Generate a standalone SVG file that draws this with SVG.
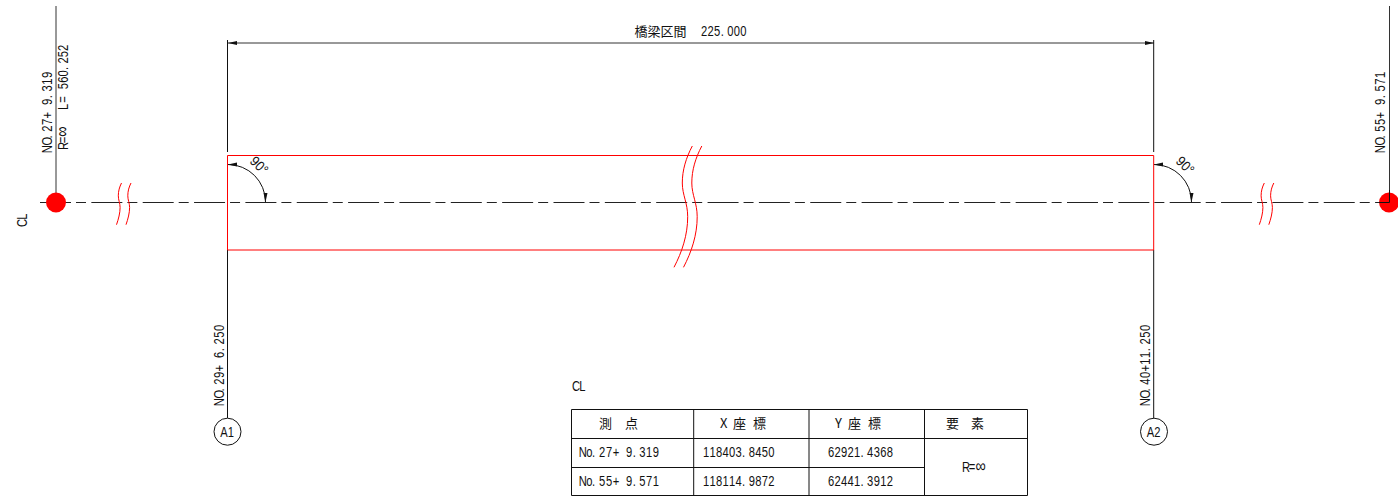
<svg xmlns="http://www.w3.org/2000/svg" width="1398" height="497" viewBox="0 0 1398 497">
<style>
.l{stroke:#111;stroke-width:1;fill:none}
.g{stroke:#333;stroke-width:1;fill:none}
.r{stroke:#f00;stroke-width:1;fill:none}
.c{stroke:#222;stroke-width:1;fill:none;stroke-dasharray:31 5 10 5.35}
.t{font-family:"Liberation Sans",sans-serif;font-size:14px;fill:#111}
.j{font-family:"Noto Sans CJK JP",sans-serif;font-size:13px;fill:#111}
.i{font-size:18px}
</style>
<defs>
<marker id="b" markerWidth="10" markerHeight="6" refX="9" refY="3" orient="auto-start-reverse" markerUnits="userSpaceOnUse"><path d="M0 1L9 3L0 5Z" fill="#111"/></marker>
</defs>
<g id="connectors">
<path class="g" d="M56 6V202"/>
<path class="g" d="M1389.500 6V202"/>
<path class="g" d="M228 43H1154" marker-start="url(#b)" marker-end="url(#b)"/>
<path class="l" d="M227.500 40V152M227.500 250V418"/>
<path class="l" d="M1153.700 40V152M1153.700 250V418"/>
<path class="c" d="M40 202.500H1389.500"/>
<path class="l" d="M228 164.500A37.500 37.500 0 0 1 265.500 202" marker-start="url(#b)" marker-end="url(#b)"/>
<path class="l" d="M1154 164.500A37.500 37.500 0 0 1 1191.500 202" marker-start="url(#b)" marker-end="url(#b)"/>
</g>
<g id="deck">
<path class="r" d="M227.500 250V155.500H1153.700V250"/>
<path class="r" d="M227.500 250H1153.700"/>
</g>
<g id="breaks">
<path class="r" d="M692.300 146C686 158 682.300 170 682.300 183C682.300 195 687.700 203 687.700 216.700C687.700 235 682 252 674 267.300"/>
<path class="r" d="M701.800 146C695.500 158 691.800 170 691.800 183C691.800 195 697.200 203 697.200 216.700C697.200 235 691.500 252 683.500 267.300"/>
<path class="r" d="M121.500 183C119.500 187 118.300 191 118.300 195.800C118.300 200 120.100 203 120.100 207.500C120.100 213 118.500 219 116.500 224.700"/>
<path class="r" d="M131 183C129 187 127.800 191 127.800 195.800C127.800 200 129.600 203 129.600 207.500C129.600 213 128 219 126 224.700"/>
<path class="r" d="M1264.300 183C1262.300 187 1261.100 191 1261.100 195.800C1261.100 200 1262.900 203 1262.900 207.500C1262.900 213 1261.300 219 1259.300 224.700"/>
<path class="r" d="M1273.800 183C1271.800 187 1270.600 191 1270.600 195.800C1270.600 200 1272.400 203 1272.400 207.500C1272.400 213 1270.800 219 1268.800 224.700"/>
</g>
<g id="point-start">
<circle cx="56" cy="202.500" r="10" fill="#f00"/>
<text class="t" transform="translate(51.500,152) rotate(-90) scale(.8,1)" x="-1.500 8 16.800 25.200 33.600 42 50.400 58.800 67.200 75.600 84 92.400">NO.27+ 9.319</text>
<text class="t" transform="translate(68,150) rotate(-90) scale(.8,1)"><tspan x="0 8.500">R=</tspan><tspan class="i" x="16.500">∞</tspan><tspan x="36 50 59 69 76 84 92 100 108 116"> L= 560.252</tspan></text>
<text class="t" transform="translate(27,227) rotate(-90) scale(.8,1)" x="0 9">CL</text>
</g>
<g id="point-end">
<circle cx="1389" cy="202.500" r="10" fill="#f00"/>
<path class="l" d="M1389.500 190V202.500H1379"/>
<text class="t" transform="translate(1385,152) rotate(-90) scale(.8,1)" x="-1.500 8 16.800 25.200 33.600 42 50.400 58.800 67.200 75.600 84 92.400">NO.55+ 9.571</text>
</g>
<g id="span-label">
<text class="j" x="634.500" y="36" textLength="52">橋梁区間</text>
<text class="t" transform="translate(701,36) scale(.8,1)" x="0 8.200 16.400 24.600 32.800 41 49.200">225.000</text>
</g>
<text class="t" transform="translate(249,162) rotate(45) scale(.9,1)" style="font-size:14px">90°</text>
<text class="t" transform="translate(1175,162) rotate(45) scale(.9,1)" style="font-size:14px">90°</text>
<g id="A1">
<circle cx="227.500" cy="431.700" r="13.500" fill="#fff" stroke="#111"/>
<text class="t" transform="translate(221,436.500) scale(.8,1)" x="-1 8.300">A1</text>
<text class="t" transform="translate(224,405) rotate(-90) scale(.8,1)" x="-1.500 8 16.800 25.200 33.600 42 50.400 58.800 67.200 75.600 84 92.400">NO.29+ 6.250</text>
</g>
<g id="A2">
<circle cx="1154" cy="431.700" r="13.500" fill="#fff" stroke="#111"/>
<text class="t" transform="translate(1147.500,436.500) scale(.8,1)" x="-1 8.300">A2</text>
<text class="t" transform="translate(1150,405) rotate(-90) scale(.8,1)" x="-1.500 8 16.800 25.200 33.600 42 50.400 58.800 67.200 75.600 84 92.400">NO.40+11.250</text>
</g>
<g id="table">
<text class="t" transform="translate(572,391) scale(.8,1)" x="0 9">CL</text>
<path class="l" d="M571.500 409.500H1027.500V495.500H571.500ZM693.700 409.500V495.500M809 409.500V495.500M924.500 409.500V495.500M571.500 438.500H1027.500M571.500 467.500H924.500"/>
<text class="j" y="428" x="599 612 625">測 点</text>
<text class="j" y="428" x="720 727 733 746 753">X 座 標</text>
<text class="j" y="428" x="835 842 848 861 868">Y 座 標</text>
<text class="j" y="428" x="946 959 971">要 素</text>
<text class="t" transform="translate(579.500,457) scale(.8,1)" x="-1 8.300 15.500 24.500 33 41.500 50 58.200 66.500 74.800 83 91.500">No.27+ 9.319</text>
<text class="t" transform="translate(579.500,486) scale(.8,1)" x="-1 8.300 15.500 24.500 33 41.500 50 58.200 66.500 74.800 83 91.500">No.55+ 9.571</text>
<text class="t" transform="translate(703,457) scale(.8,1)" x="0 8.150 16.300 24.450 32.600 40.750 48.900 57.050 65.200 73.350 81.500">118403.8450</text>
<text class="t" transform="translate(703,486) scale(.8,1)" x="0 8.150 16.300 24.450 32.600 40.750 48.900 57.050 65.200 73.350 81.500">118114.9872</text>
<text class="t" transform="translate(828,457) scale(.8,1)" x="0 8.150 16.300 24.450 32.600 40.750 48.900 57.050 65.200 73.350">62921.4368</text>
<text class="t" transform="translate(828,486) scale(.8,1)" x="0 8.150 16.300 24.450 32.600 40.750 48.900 57.050 65.200 73.350">62441.3912</text>
<text class="t" transform="translate(962,472) scale(.8,1)"><tspan x="0 8.500">R=</tspan><tspan class="i" x="17">∞</tspan></text>
</g>
</svg>
